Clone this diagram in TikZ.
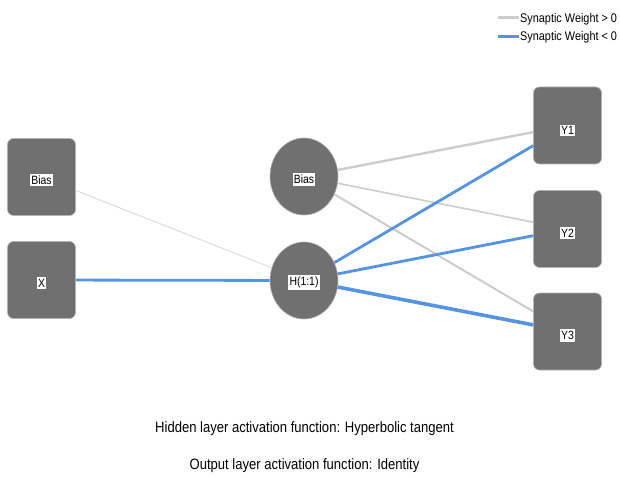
\documentclass[tikz,border=0pt]{standalone}
\usepackage{graphicx}
\usepackage{fontspec}
\usetikzlibrary{shapes.geometric}
\setmainfont{Liberation Sans}
\newcommand\cnd[1]{\scalebox{0.87}[1]{#1}}
\begin{document}
\begin{tikzpicture}[x=1pt,y=-1pt,
  unitbox/.style={draw=gray!60,line width=0.6pt,fill=nodegray,rounded corners=6pt,minimum width=68pt,minimum height=77pt,inner sep=0pt},
  unitcirc/.style={ellipse,draw=gray!60,line width=0.6pt,fill=nodegray,minimum width=68pt,minimum height=77pt,inner sep=0pt},
  lab/.style={fill=white,inner xsep=1.2pt,inner ysep=1.8pt,font=\fontsize{12}{13}\selectfont},
  poswt/.style={draw=edgegray},
  negwt/.style={draw=edgeblue},
  legtext/.style={font=\fontsize{12.5}{13}\selectfont,anchor=west,inner sep=0pt},
  caption/.style={font=\fontsize{15}{16}\selectfont,inner sep=0pt}
]
\definecolor{nodegray}{RGB}{112,112,112}
\definecolor{edgegray}{RGB}{205,205,205}
\definecolor{edgegraylight}{RGB}{222,222,222}
\definecolor{edgeblue}{RGB}{85,148,228}
\useasboundingbox (0,0) rectangle (620,478);
\fill[white] (0,0) rectangle (620,478);

% nodes
\node[unitbox] (bi) at (41.5,177) {};
\node[unitbox] (x) at (41.5,280) {};
\node[unitcirc] (bh) at (304,176.5) {};
\node[unitcirc] (h) at (304,280.5) {};
\node[unitbox] (y1) at (567.5,125.5) {};
\node[unitbox] (y2) at (567.5,229) {};
\node[unitbox] (y3) at (567.5,331.5) {};

% connectors
\draw[draw=edgegraylight,line width=1pt] (bi) -- (h);
\draw[negwt,line width=2.8pt] (x) -- (h);
\draw[poswt,line width=2.4pt] (bh) -- (y1);
\draw[poswt,line width=1.6pt] (bh) -- (y2);
\draw[poswt,line width=2pt] (bh) -- (y3);
\draw[negwt,line width=2.8pt] (h) -- (y1);
\draw[negwt,line width=2.8pt] (h) -- (y2);
\draw[negwt,line width=3.6pt] (h) -- (y3);

% labels
\node[lab] (bi-t) at ([yshift=-3pt]bi.center) {\cnd{Bias}};
\node[lab] (x-t) at ([yshift=-3pt]x.center) {\cnd{X}};
\node[lab] (bh-t) at ([yshift=-3pt]bh.center) {\cnd{Bias}};
\node[lab] (h-t) at ([yshift=-2pt]h.center) {\cnd{H(1:1)}};
\node[lab] (y1-t) at ([yshift=-5pt]y1.center) {\cnd{Y1}};
\node[lab] (y2-t) at ([yshift=-4pt]y2.center) {\cnd{Y2}};
\node[lab] (y3-t) at ([yshift=-4pt]y3.center) {\cnd{Y3}};

% legend
\coordinate (lg1a) at (498,17.5);
\coordinate (lg1b) at (519,17.5);
\coordinate (lg2a) at (498,36.5);
\coordinate (lg2b) at (519,36.5);
\draw[poswt,line width=3pt] (lg1a) -- (lg1b);
\draw[negwt,line width=3pt] (lg2a) -- (lg2b);
\node[legtext] (lt1) at (520,19) {\cnd{Synaptic Weight > 0}};
\node[legtext] (lt2) at (520,37.5) {\cnd{Synaptic Weight < 0}};

% captions
\node[caption] (c1) at (304.5,429) {\cnd{Hidden layer activation function: Hyperbolic tangent}};
\node[caption] (c2) at (304.5,466) {\cnd{Output layer activation function: Identity}};
\end{tikzpicture}
\end{document}
